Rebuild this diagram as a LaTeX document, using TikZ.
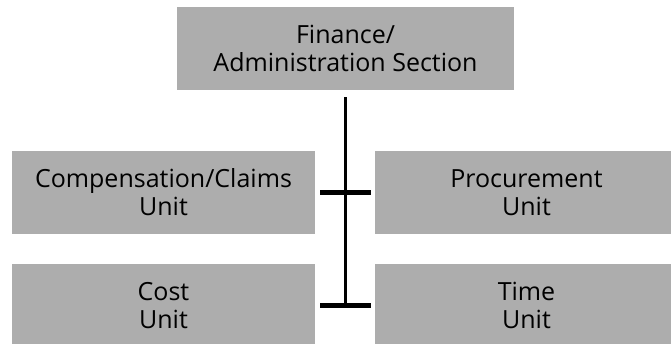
\documentclass[tikz,border=0pt]{standalone}
\usepackage{fontspec}
\setmainfont{Open Sans}
\begin{document}
\begin{tikzpicture}[x=1pt,y=-1pt,
  unitbox/.style={fill=black!32, draw=none, minimum height=83pt, inner sep=0pt,
    align=center, font=\fontsize{25}{28}\selectfont, text=black},
  bar/.style={line width=5pt, draw=black},
  stem/.style={line width=3.5pt, draw=black}]
\useasboundingbox (0,0) rectangle (671,344);
\fill[white] (0,0) rectangle (671,344);
\node[unitbox, minimum width=337pt] (fin) at (345.5,48.5) {Finance/\\Administration Section};
\node[unitbox, minimum width=303pt] (comp) at (163.5,192.5) {Compensation/Claims\\Unit};
\node[unitbox, minimum width=303pt] (proc) at (526.5,192.5) {Procurement\\Unit};
\node[unitbox, minimum width=303pt] (cost) at (163.5,305.5) {Cost\\Unit};
\node[unitbox, minimum width=303pt] (time) at (526.5,305.5) {Time\\Unit};
\coordinate (foot) at (fin.south |- cost.east);
\draw[stem, shorten <=7pt, shorten >=-2.5pt] (fin.south) -- (foot);
\draw[bar, shorten <=5pt, shorten >=4pt] (comp.east) -- (proc.west);
\draw[bar, shorten <=5pt, shorten >=4pt] (cost.east) -- (time.west);
\end{tikzpicture}
\end{document}
